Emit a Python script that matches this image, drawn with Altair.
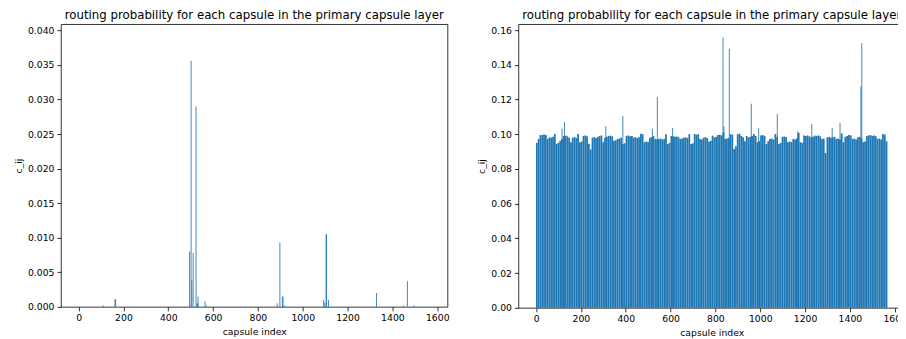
import altair as alt
import pandas as pd

TITLE = "routing probability for each capsule in the primary capsule layer"
BAR_COLOR = "#1f77b4"
N_CAPSULES = 1568
BLOCK = 8  # right panel values read per block of 8 capsules

# Left panel: nonzero routing probabilities (all other capsules ~0)
left_idx = [110, 162, 165, 495, 502, 505, 511, 524, 528, 531, 533, 564, 569,
            886, 898, 909, 912, 918, 1093, 1098, 1104, 1106, 1115, 1329, 1449,
            1467, 1496]
left_val = [0.0002, 0.0011, 0.0011, 0.0080, 0.0356, 0.0038, 0.0078, 0.0290,
            0.0005, 0.0005, 0.0015, 0.0008, 0.0002, 0.0005, 0.0093, 0.0015,
            0.0015, 0.0002, 0.0010, 0.0006, 0.0105, 0.0105, 0.0010, 0.0020,
            0.0002, 0.0037, 0.0002]

# Right panel: typical value per block of 8 capsules
right_block_val = [
    0.0950, 0.0973, 0.0995, 0.0995, 0.0998, 0.0995, 0.0973, 0.0982, 0.0980, 0.0985,
    0.1001, 0.0944, 0.0950, 0.0962, 0.0973, 0.0990, 0.0992, 0.0988, 0.0980, 0.0954,
    0.0980, 0.0984, 0.0978, 0.1001, 0.0954, 0.0958, 0.0990, 0.0993, 0.0988, 0.0945,
    0.0912, 0.0980, 0.0983, 0.0978, 0.0985, 0.0990, 0.0993, 0.0954, 0.0980, 0.0985,
    0.0990, 0.0992, 0.0988, 0.0963, 0.0965, 0.0973, 0.0975, 0.0980, 0.0944, 0.0948,
    0.0990, 0.0993, 0.0988, 0.0990, 0.0980, 0.0983, 0.0978, 0.0982, 0.1003, 0.1000,
    0.0954, 0.0958, 0.0955, 0.0980, 0.0983, 0.0990, 0.0973, 0.0970, 0.0973, 0.0975,
    0.0970, 0.0973, 0.1000, 0.0944, 0.0950, 0.0990, 0.0988, 0.0985, 0.0987, 0.0983,
    0.0973, 0.0975, 0.0980, 0.0982, 0.0978, 0.1001, 0.0944, 0.0948, 0.1001, 0.0998,
    0.1000, 0.0973, 0.0970, 0.0980, 0.0983, 0.0978, 0.0958, 0.0962, 0.0992, 0.0982,
    0.0985, 0.0995, 0.0997, 0.0993, 0.1010, 0.0973, 0.0975, 0.0978, 0.1000, 0.0998,
    0.0915, 0.0930, 0.1000, 0.1003, 0.0990, 0.0982, 0.0960, 0.0990, 0.0982, 0.0985,
    0.0990, 0.1001, 0.0990, 0.0954, 0.0960, 0.0992, 0.0995, 0.0990, 0.0944, 0.0960,
    0.0973, 0.0975, 0.0970, 0.1001, 0.0985, 0.0944, 0.0950, 0.0985, 0.0987, 0.0983,
    0.0954, 0.0958, 0.0955, 0.0973, 0.0970, 0.0975, 0.1008, 0.0954, 0.0950, 0.0992,
    0.0990, 0.0993, 0.0988, 0.0982, 0.0985, 0.0992, 0.0990, 0.0993, 0.0988, 0.0973,
    0.0975, 0.0892, 0.0982, 0.0985, 0.0980, 0.0982, 0.0985, 0.0973, 0.0975, 0.0970,
    0.1005, 0.0954, 0.0985, 0.0990, 0.0995, 0.0993, 0.0973, 0.0975, 0.0970, 0.0982,
    0.0985, 0.0978, 0.0954, 0.0958, 0.0990, 0.0993, 0.0995, 0.0990, 0.0992, 0.0988,
    0.0973, 0.0975, 0.0970, 0.1001, 0.0998, 0.0960,
]

# Right panel: individual capsules standing out above the rest
right_spike_idx = [116, 127, 311, 387, 519, 541, 609, 834, 838, 862, 960, 993,
                   1076, 1167, 1230, 1321, 1356, 1449, 1453]
right_spike_val = [0.1032, 0.1070, 0.1046, 0.1105, 0.1030, 0.1214, 0.1036,
                   0.1556, 0.1046, 0.1493, 0.1176, 0.1034, 0.1117, 0.1017,
                   0.1059, 0.1036, 0.1065, 0.1274, 0.1525]

x_ticks = [0, 200, 400, 600, 800, 1000, 1200, 1400, 1600]
left_y_ticks = [0.0, 0.005, 0.010, 0.015, 0.020, 0.025, 0.030, 0.035, 0.040]
right_y_ticks = [0.0, 0.02, 0.04, 0.06, 0.08, 0.10, 0.12, 0.14, 0.16]

# ---- tables ----
left_df = pd.DataFrame({"idx": left_idx, "c": left_val})
blocks_df = pd.DataFrame({
    "idx": [k * BLOCK - 0.4 for k in range(len(right_block_val))],
    "end": [k * BLOCK + BLOCK - 0.6 for k in range(len(right_block_val))],
    "c": right_block_val,
})
spikes_df = pd.DataFrame({"idx": right_spike_idx, "c": right_spike_val})

FONT = "DejaVu Sans"
PW, PH = 387, 283
x_lo = -0.4 - 0.05 * (N_CAPSULES - 1 + 0.8)
x_hi = N_CAPSULES - 1 + 0.4 + 0.05 * (N_CAPSULES - 1 + 0.8)
x_scale = alt.Scale(domain=[x_lo, x_hi], nice=False, zero=False)

x_axis = alt.Axis(values=x_ticks, format="d", title="capsule index",
                  labelOverlap=False)

left_y = alt.Y("c:Q", scale=alt.Scale(domain=[0, 0.0409], nice=False),
               axis=alt.Axis(values=left_y_ticks, format=".3f", title="c_ij",
                             labelOverlap=False))
right_scale = alt.Scale(domain=[0, max(right_spike_val) * 1.05], nice=False)
right_axis = alt.Axis(values=right_y_ticks, format=".2f", title="c_ij",
                      labelOverlap=False)

title = alt.TitleParams(TITLE, fontSize=11.8, font=FONT, fontWeight="normal",
                        color="black", anchor="middle", offset=2)

left = alt.Chart(left_df, title=title).mark_rule(
    color=BAR_COLOR, strokeWidth=1, opacity=0.85
).encode(
    x=alt.X("idx:Q", scale=x_scale, axis=x_axis),
    y=left_y,
    y2=alt.datum(0),
).properties(width=PW, height=PH)

right_blocks = alt.Chart(blocks_df).mark_rect(color=BAR_COLOR).encode(
    x=alt.X("idx:Q", scale=x_scale, axis=x_axis),
    x2="end:Q",
    y=alt.Y("c:Q", scale=right_scale, axis=right_axis),
    y2=alt.datum(0),
)
right_spikes = alt.Chart(spikes_df).mark_rule(
    color=BAR_COLOR, strokeWidth=1, opacity=0.85
).encode(
    x=alt.X("idx:Q", scale=x_scale, axis=x_axis),
    y=alt.Y("c:Q", scale=right_scale, axis=right_axis),
    y2=alt.datum(0),
)
right = alt.layer(right_blocks, right_spikes, title=title).properties(
    width=PW, height=PH + 1)

# the right panel runs past the picture's right edge, as in the reference
chart = alt.hconcat(left, right, spacing=27).properties(
    padding={"left": 5, "top": 1, "right": -9, "bottom": 0},
    background="white",
).configure_view(
    stroke="black", strokeWidth=0.8
).configure_axis(
    grid=False, domain=False, tickColor="black", tickSize=4, tickWidth=0.8,
    labelPadding=3, titlePadding=4, labelFont=FONT, titleFont=FONT,
    labelFontSize=9.3, titleFontSize=9.3, labelColor="black", titleColor="black",
    titleFontWeight="normal",
)

chart.save("out.html", embed_options={"renderer": "svg", "actions": False})
